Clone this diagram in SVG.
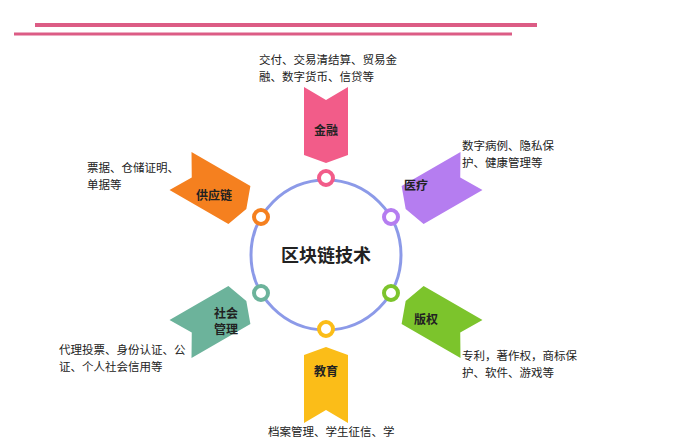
<svg xmlns="http://www.w3.org/2000/svg" width="687" height="440" viewBox="0 0 687 440">
<style>
text{font-family:"Noto Sans CJK SC","Noto Sans",sans-serif;fill:#222}
.d{font-size:11.5px}
.l{font-size:12px;font-weight:bold;text-anchor:middle}
.r{fill:#fff;stroke-width:4}
</style>
<defs><polygon id="chev" points="304,87 326,100 348,87 348,155 326,163 304,155"/></defs>
<rect width="687" height="440" fill="#fff"/>
<line x1="35" y1="25" x2="537" y2="25" stroke="#dc5c85" stroke-width="4"/>
<line x1="14" y1="34" x2="512" y2="34" stroke="#dc5c85" stroke-width="3"/>
<g id="connectors"><circle cx="326" cy="255" r="75" fill="none" stroke="#8c9ae8" stroke-width="3"/></g>
<g id="center"><text x="326" y="262" font-size="18" font-weight="bold" text-anchor="middle">区块链技术</text></g>
<g id="jinrong"><use href="#chev" fill="#f25c89"/><circle class="r" cx="326" cy="178" r="7" stroke="#f25c89"/><text class="l" x="326" y="135">金融</text>
<text class="d" x="259" y="64">交付、交易清结算、贸易金</text><text class="d" x="259" y="81">融、数字货币、信贷等</text></g>
<g id="yiliao"><use href="#chev" fill="#b57df0" transform="rotate(60 326 255)"/><circle class="r" cx="391" cy="217" r="7" stroke="#b57df0"/><text class="l" x="416" y="190">医疗</text>
<text class="d" x="462" y="150">数字病例、隐私保</text><text class="d" x="462" y="167">护、健康管理等</text></g>
<g id="banquan"><use href="#chev" fill="#7cc42c" transform="rotate(120 326 255)"/><circle class="r" cx="391" cy="293" r="7" stroke="#7cc42c"/><text class="l" x="426" y="324">版权</text>
<text class="d" x="462" y="360">专利，著作权，商标保</text><text class="d" x="462" y="377">护、软件、游戏等</text></g>
<g id="jiaoyu"><use href="#chev" fill="#fbbd18" transform="rotate(180 326 255)"/><circle class="r" cx="326" cy="329" r="7" stroke="#fbbd18"/><text class="l" x="326" y="376">教育</text>
<text class="d" x="268" y="436">档案管理、学生征信、学</text></g>
<g id="shehui"><use href="#chev" fill="#6cb39b" transform="rotate(240 326 255)"/><circle class="r" cx="261" cy="293" r="7" stroke="#6cb39b"/><text class="l" x="226" y="318">社会</text><text class="l" x="226" y="334">管理</text>
<text class="d" x="59" y="354">代理投票、身份认证、公</text><text class="d" x="59" y="371">证、个人社会信用等</text></g>
<g id="gongying"><use href="#chev" fill="#f5801f" transform="rotate(300 326 255)"/><circle class="r" cx="261" cy="217" r="7" stroke="#f5801f"/><text class="l" x="214" y="200">供应链</text>
<text class="d" x="87" y="172">票据、仓储证明、</text><text class="d" x="87" y="189">单据等</text></g>
</svg>
